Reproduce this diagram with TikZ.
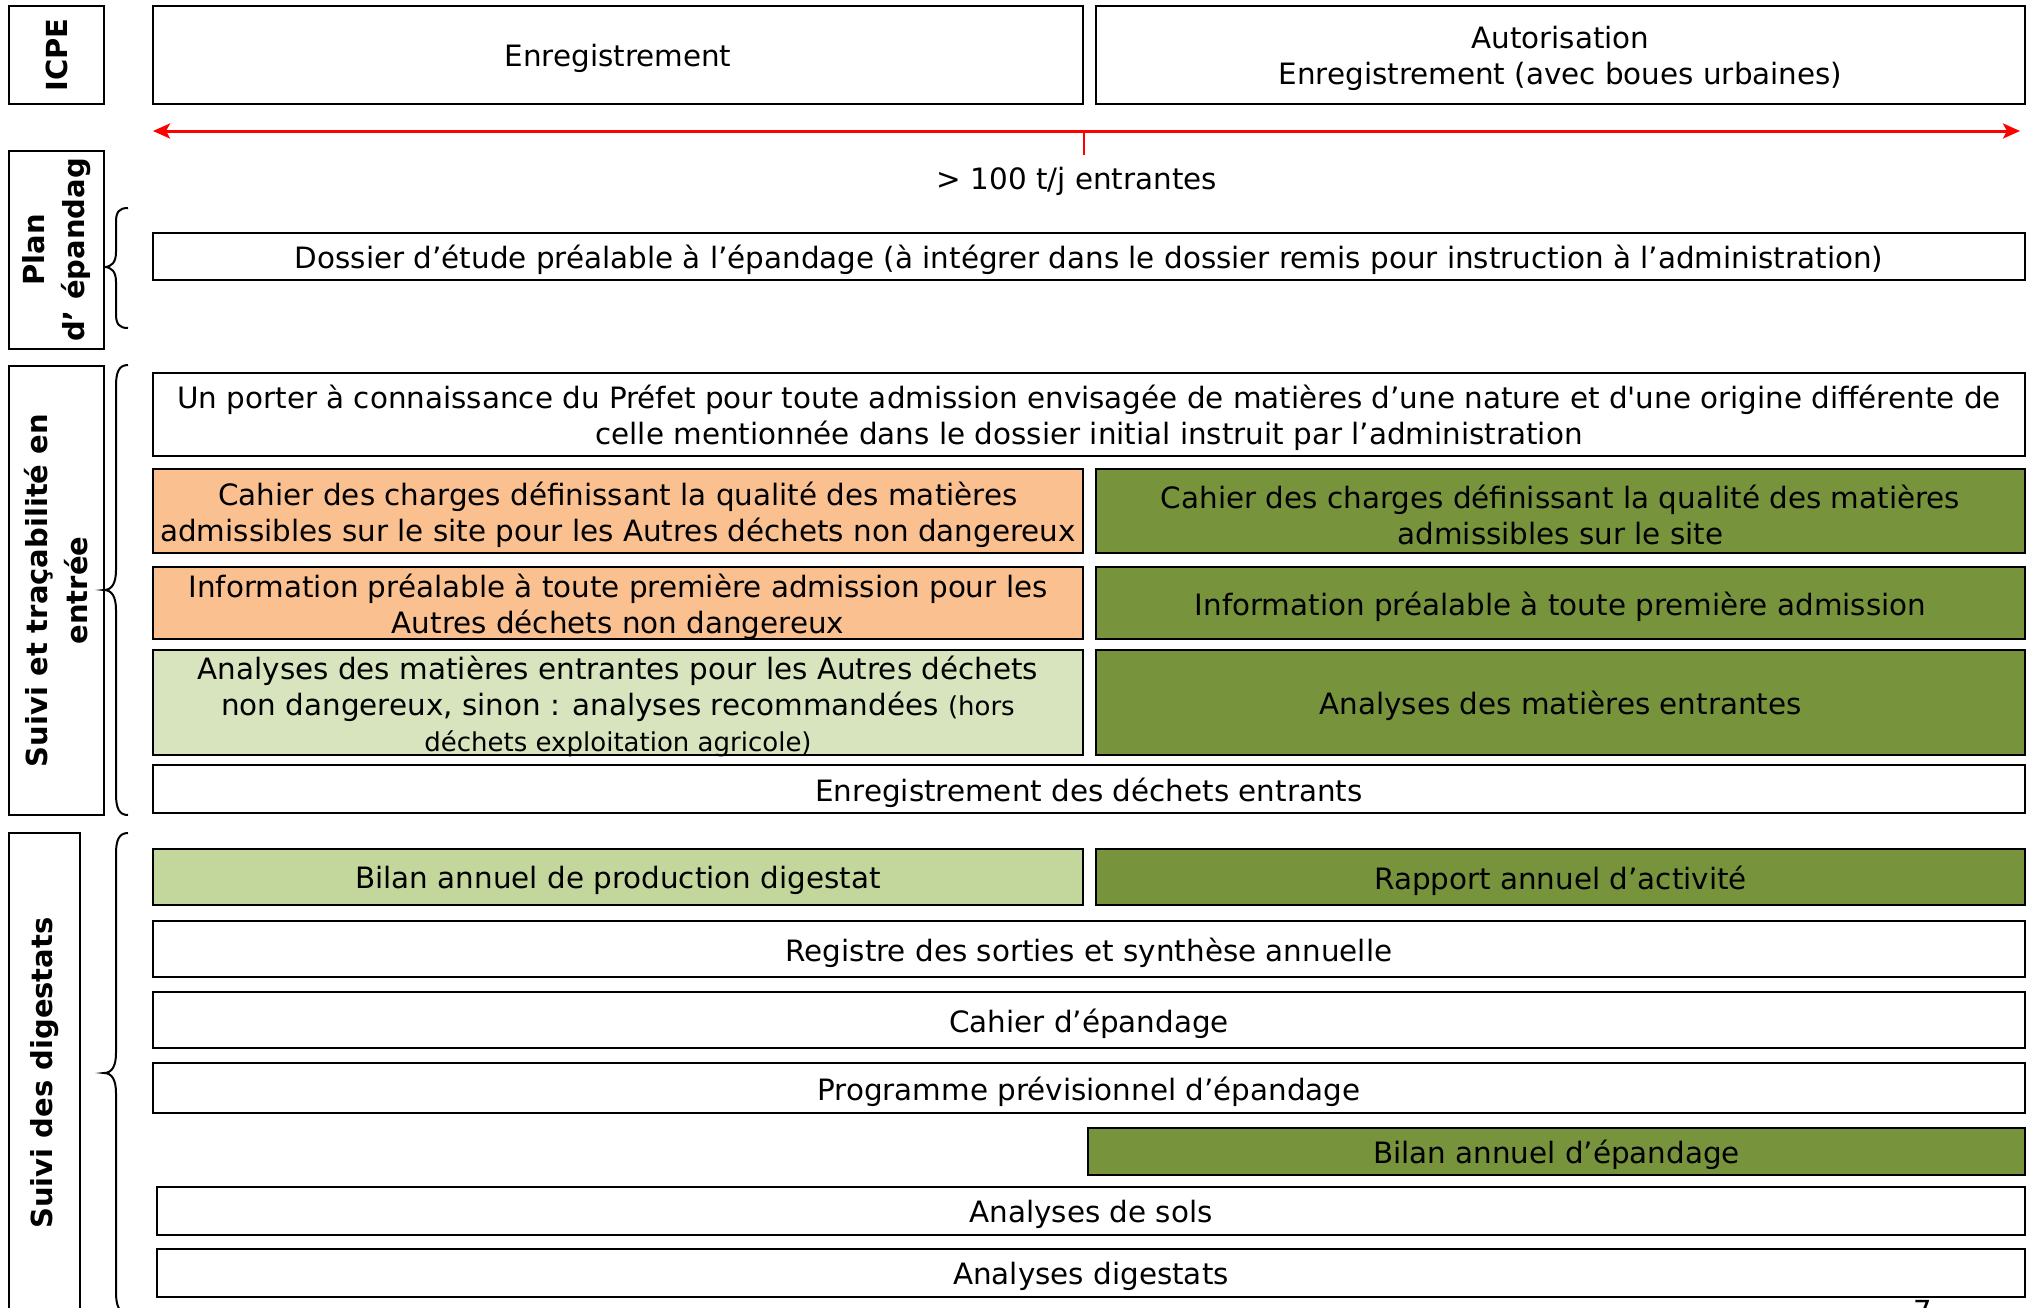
\documentclass[tikz,border=0pt]{standalone}
\usepackage{fontspec}
\setmainfont{DejaVu Sans}[Ligatures=TeXOff]
\usetikzlibrary{arrows.meta}
\definecolor{orng}{HTML}{FAC090}
\definecolor{lgreen}{HTML}{D7E4BD}
\definecolor{mgreen}{HTML}{C3D69B}
\definecolor{dgreen}{HTML}{77933C}
\newcommand\mybox[7]{\node[#6, minimum width={(#4-#2)*1pt}, minimum height={(#5-#3)*1pt}] (#1) at ({(#2+#4)/2},{(#3+#5)/2}) {};
  \node[txt] (#1-t) at ([yshift=-3.5pt]#1.center) {#7};}
\newcommand\mylbl[7]{\node[#6, rotate=90, minimum width={(#5-#3)*1pt}, minimum height={(#4-#2)*1pt}] (#1) at ({(#2+#4)/2},{(#3+#5)/2}) {#7};}
\tikzset{
  cbox/.style={draw=black, line width=2.2pt, inner sep=0pt},
  txt/.style={inner sep=0pt, align=center, font=\fontsize{29.4}{36}\selectfont},
  lblbox/.style={draw=black, line width=2.2pt, inner sep=0pt, align=center, font=\fontsize{29}{40}\selectfont\bfseries},
  bracestyle/.style={draw=black, line width=2pt},
}
\begin{document}
\begin{tikzpicture}[x=1pt,y=-1pt]
\useasboundingbox (0,0) rectangle (2033,1307);
\begin{scope}
\clip (0,0) rectangle (2033,1307);
% left labels
\mylbl{icpe}{9}{6}{104}{104}{lblbox}{ICPE}
\mylbl{plan}{9}{151}{104}{349}{lblbox}{Plan\\d’ épandag}
\mylbl{suivi}{9}{366}{104}{815}{lblbox}{Suivi et traçabilité en\\entrée}
\mylbl{digl}{9}{833}{80}{1313}{lblbox}{Suivi des digestats}
% top row
\mybox{enr}{153}{6}{1083}{104}{cbox}{Enregistrement}
\mybox{aut}{1096}{6}{2025}{104}{cbox}{Autorisation\\Enregistrement (avec boues urbaines)}
% arrow
\coordinate (aL) at (153,131);
\coordinate (aR) at (2020,131);
\coordinate (tA) at (1084,131);
\coordinate (tB) at (1084,155);
\draw[red, line width=3pt, {Stealth[length=17pt,width=15pt,inset=4pt]}-{Stealth[length=17pt,width=15pt,inset=4pt]}] (aL) -- (aR);
\draw[red, line width=2.2pt] (tA) -- (tB);
\node[txt] (seuil) at (1077,181) {> 100 t/j entrantes};
% plan
\mybox{dossier}{153}{233}{2025}{280}{cbox}{Dossier d’étude préalable à l’épandage (à intégrer dans le dossier remis pour instruction à l’administration)}
% suivi entree
\mybox{porter}{153}{373}{2025}{456}{cbox}{Un porter à connaissance du Préfet pour toute admission envisagée de matières d’une nature et d'une origine différente de\\celle mentionnée dans le dossier initial instruit par l’administration}
\mybox{cahO}{153}{469}{1083}{553}{cbox, fill=orng}{Cahier des charges définissant la qualité des matières\\admissibles sur le site pour les Autres déchets non dangereux}
\mybox{cahG}{1096}{469}{2025}{553}{cbox, fill=dgreen}{Cahier des charges définissant la qualité des matières\\admissibles sur le site}
\mybox{infO}{153}{567}{1083}{639}{cbox, fill=orng}{Information préalable à toute première admission pour les\\Autres déchets non dangereux}
\mybox{infG}{1096}{567}{2025}{639}{cbox, fill=dgreen}{Information préalable à toute première admission}
\mybox{anaO}{153}{650}{1083}{755}{cbox, fill=lgreen}{Analyses des matières entrantes pour les Autres déchets\\non dangereux, sinon : analyses recommandées {\fontsize{26}{33}\selectfont (hors}\\{\fontsize{26}{33}\selectfont déchets exploitation agricole)}}
\mybox{anaG}{1096}{650}{2025}{755}{cbox, fill=dgreen}{Analyses des matières entrantes}
\mybox{enrd}{153}{765}{2025}{813}{cbox}{Enregistrement des déchets entrants}
% digestats
\mybox{bprod}{153}{849}{1083}{905}{cbox, fill=mgreen}{Bilan annuel de production digestat}
\mybox{rapp}{1096}{849}{2025}{905}{cbox, fill=dgreen}{Rapport annuel d’activité}
\mybox{regi}{153}{921}{2025}{977}{cbox}{Registre des sorties et synthèse annuelle}
\mybox{cahep}{153}{992}{2025}{1048}{cbox}{Cahier d’épandage}
\mybox{prog}{153}{1063}{2025}{1113}{cbox}{Programme prévisionnel d’épandage}
\mybox{bep}{1088}{1128}{2025}{1175}{cbox, fill=dgreen}{Bilan annuel d’épandage}
\mybox{sols}{157}{1187}{2025}{1235}{cbox}{Analyses de sols}
\mybox{adig}{157}{1249}{2025}{1297}{cbox}{Analyses digestats}
% braces
\draw[bracestyle] (128,208) .. controls (119,208) and (116,212) .. (116,222) -- (116,252) .. controls (116,262) and (112,267) .. (104,267) .. controls (112,267) and (116,272) .. (116,282) -- (116,314) .. controls (116,324) and (119,328) .. (128,328);
\draw[bracestyle] (128,365) .. controls (119,365) and (116,372) .. (116,386) -- (116,570) .. controls (116,583) and (112,590) .. (104,590) .. controls (112,590) and (116,597) .. (116,610) -- (116,794) .. controls (116,808) and (119,815) .. (128,815);
\draw[bracestyle] (128,833) .. controls (119,833) and (116,840) .. (116,854) -- (116,1053) .. controls (116,1066) and (112,1073) .. (104,1073) .. controls (112,1073) and (116,1080) .. (116,1093) -- (116,1292) .. controls (116,1306) and (119,1313) .. (128,1313);
% page number
\node[anchor=north, inner sep=0pt, font=\fontsize{29}{36}\selectfont] (pnum) at (1923,1300) {7};
\end{scope}
\end{tikzpicture}
\end{document}
